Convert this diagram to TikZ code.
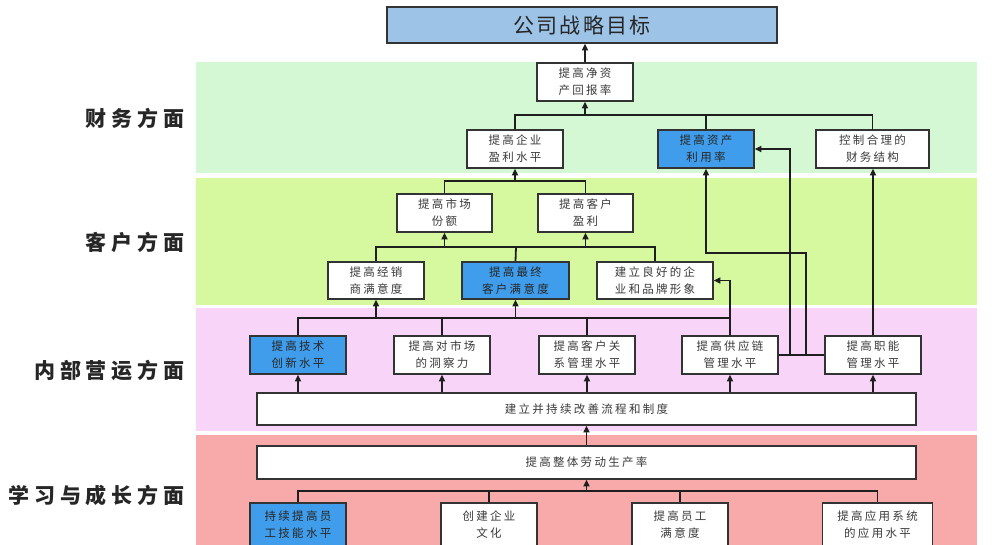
\documentclass[tikz,border=0pt]{standalone}
\usepackage{fontspec}
\usetikzlibrary{arrows.meta}
\newfontfamily\boxfont[LetterSpace=20]{Noto Sans CJK SC}
\newfontfamily\topfont[LetterSpace=10]{Noto Sans CJK SC}
\newfontfamily\labfont[LetterSpace=23]{Noto Sans CJK SC}
\definecolor{bandF}{HTML}{D4F8D4}
\definecolor{bandC}{HTML}{D6F9A0}
\definecolor{bandI}{HTML}{F8D5F8}
\definecolor{bandL}{HTML}{F8A9A9}
\definecolor{topblue}{HTML}{9DC3E6}
\definecolor{hiblue}{HTML}{3F9DEB}
\definecolor{edge}{HTML}{333333}
\definecolor{txt}{HTML}{3A3A3A}
\definecolor{wire}{HTML}{1E1E1E}
\tikzset{
  box/.style={draw=edge, line width=1.6pt, fill=white, inner sep=0pt, align=center,
    minimum width=96pt, minimum height=38pt, text=txt,
    font=\boxfont\fontsize{11.5}{17}\selectfont},
  hibox/.style={box, fill=hiblue, text=black!85},
  wide/.style={box, minimum width=659pt},
  wirestyle/.style={draw=wire, line width=1.8pt},
  arr/.style={wirestyle, -{Triangle[length=6.5pt,width=6pt]}},
  lab/.style={anchor=east, text=black!85, font=\labfont\bfseries\fontsize{21}{24}\selectfont}
}
\begin{document}
\begin{tikzpicture}[x=1pt,y=-1pt]
\useasboundingbox (0,0) rectangle (998,545);
\fill[white] (0,0) rectangle (998,545);
% bands
\fill[bandF] (196,62) rectangle (977,173);
\fill[bandC] (196,178) rectangle (977,305);
\fill[bandI] (196,308) rectangle (977,431);
\fill[bandL] (196,435) rectangle (977,550);
% labels
\node[lab] (labF) at (188,118) {财务方面};
\node[lab] (labC) at (188,242) {客户方面};
\node[lab] (labI) at (188,370) {内部营运方面};
\node[lab] (labL) at (188,495) {学习与成长方面};
% top
\node[box, fill=topblue, minimum width=390pt, minimum height=36pt, text=black!85,
  font=\topfont\fontsize{21}{24}\selectfont] (top) at (582,25) {公司战略目标};
% finance
\node[box] (roe) at (585,82) {提高净资\\产回报率};
\node[box] (f1) at (515,149) {提高企业\\盈利水平};
\node[hibox] (f2) at (706,149) {提高资产\\利用率};
\node[box, minimum width=113pt] (f3) at (872.5,149) {控制合理的\\财务结构};
% customer
\node[box, minimum width=95pt] (c1) at (444.5,213) {提高市场\\份额};
\node[box, minimum width=95pt] (c2) at (585.5,213) {提高客户\\盈利};
\node[box, minimum height=37pt] (c3) at (376,280.5) {提高经销\\商满意度};
\node[hibox, minimum width=107pt, minimum height=37pt] (c4) at (515.5,280.5) {提高最终\\客户满意度};
\node[box, minimum width=116pt, minimum height=37pt] (c5) at (655,280.5) {建立良好的企\\业和品牌形象};
% internal
\node[hibox] (i1) at (298,355) {提高技术\\创新水平};
\node[box] (i2) at (442,355) {提高对市场\\的洞察力};
\node[box] (i3) at (587,355) {提高客户关\\系管理水平};
\node[box] (i4) at (730,355) {提高供应链\\管理水平};
\node[box] (i5) at (873,355) {提高职能\\管理水平};
\node[wide, minimum height=32pt] (p1) at (586.5,409) {建立并持续改善流程和制度};
% learning
\node[wide, minimum height=33pt] (p2) at (586.5,462.5) {提高整体劳动生产率};
\node[hibox, minimum height=44pt] (l1) at (298,525) {持续提高员\\工技能水平};
\node[box, minimum height=44pt] (l2) at (489,525) {创建企业\\文化};
\node[box, minimum height=44pt] (l3) at (680,525) {提高员工\\满意度};
\node[box, minimum width=110pt, minimum height=44pt] (l4) at (877.5,525) {提高应用系统\\的应用水平};
% coordinates of buses
\coordinate (fbus) at (585,115);
\coordinate (cbusA) at (515,181);
\coordinate (cbusB) at (516,247);
\coordinate (ibus) at (442,318);
\coordinate (lbus) at (586.5,491);
\coordinate (sc1) at (806,253);
\coordinate (fn1) at (790,149);
% connectors
\draw[arr] (roe.north) -- (roe.north |- top.south);
\draw[wirestyle] (f1.north) |- (fbus);
\draw[wirestyle] (f3.north) |- (fbus);
\draw[wirestyle] (f2.north) -- (f2.north |- fbus);
\draw[arr] (fbus) -- (roe.south);
\draw[wirestyle] (c1.north) |- (cbusA);
\draw[wirestyle] (c2.north) |- (cbusA);
\draw[arr] (cbusA) -- (f1.south);
\draw[wirestyle] (c3.north) |- (cbusB);
\draw[wirestyle] (c5.north) |- (cbusB);
\draw[wirestyle] (c4.north) -- (cbusB);
\draw[arr] (c1.south |- cbusB) -- (c1.south);
\draw[arr] (c2.south |- cbusB) -- (c2.south);
\draw[wirestyle] (i1.north) |- (i4.north |- ibus);
\draw[wirestyle] (i2.north) -- (ibus);
\draw[wirestyle] (i3.north) -- (i3.north |- ibus);
\draw[arr] (c3.south |- ibus) -- (c3.south);
\draw[arr] (c4.south |- ibus) -- (c4.south);
\draw[arr] (i4.north) |- (c5.east);
\draw[arr] (i4.east) -| (sc1) -| (f2.south);
\draw[arr] (i5.west) -| (fn1) -- (f2.east);
\draw[arr] (i5.north) -- (i5.north |- f3.south);
\foreach \n in {i1,i2,i3,i4,i5} \draw[arr] (\n.south |- p1.north) -- (\n.south);
\draw[arr] (p2.north) -- (p1.south);
\draw[wirestyle] (l1.north) |- (l4.north |- lbus) -- (l4.north);
\draw[wirestyle] (l2.north) -- (l2.north |- lbus);
\draw[wirestyle] (l3.north) -- (l3.north |- lbus);
\draw[arr] (lbus) -- (p2.south);
\end{tikzpicture}
\end{document}
